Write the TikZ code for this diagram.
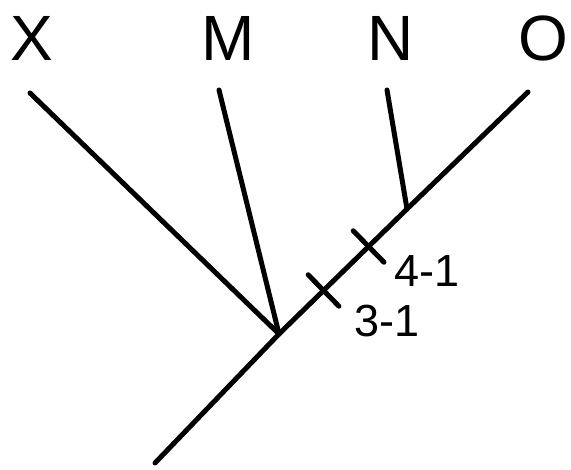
\documentclass[tikz,border=0pt]{standalone}
\usepackage{fontspec}
\setmainfont{Liberation Sans}
\usetikzlibrary{calc}
\begin{document}
\begin{tikzpicture}[x=1pt,y=-1pt,
  branch/.style={line width=5pt,line cap=round,black},
  taxon/.style={inner sep=0pt,font=\fontsize{64}{70}\selectfont},
  ticklabel/.style={inner sep=0pt,font=\fontsize{45}{50}\selectfont}]
\useasboundingbox (0,0) rectangle (571,470);
% labels
\node[taxon] (X) at (32,38) {X};
\node[taxon] (M) at (228,38) {M};
\node[taxon] (N) at (391,38) {N};
\node[taxon] (O) at (543,38) {O};
\node[ticklabel] (l31) at (387,321) {3-1};
\node[ticklabel] (l41) at (427,271) {4-1};
% coordinates
\coordinate (bot) at (155,463);
\coordinate (j1) at (279,334);
\coordinate (j2) at (407,209);
\coordinate (top) at (528,92);
\coordinate (xt) at (30,93);
\coordinate (mt) at (219,90);
\coordinate (nt) at (387,90);
% branches
\draw[branch] (bot) -- (j1) -- (j2) -- (top);
\draw[branch] (xt) -- (j1);
\draw[branch] (mt) -- (j1);
\draw[branch] (nt) -- (j2);
% ticks
\coordinate (t1) at ($(j1)!0.348!(j2)$);
\coordinate (t2) at ($(j1)!0.70!(j2)$);
\draw[branch] ($(t1)!22pt!90:(j2)$) -- ($(t1)!22pt!-90:(j2)$);
\draw[branch] ($(t2)!22pt!90:(j2)$) -- ($(t2)!22pt!-90:(j2)$);
\end{tikzpicture}
\end{document}
